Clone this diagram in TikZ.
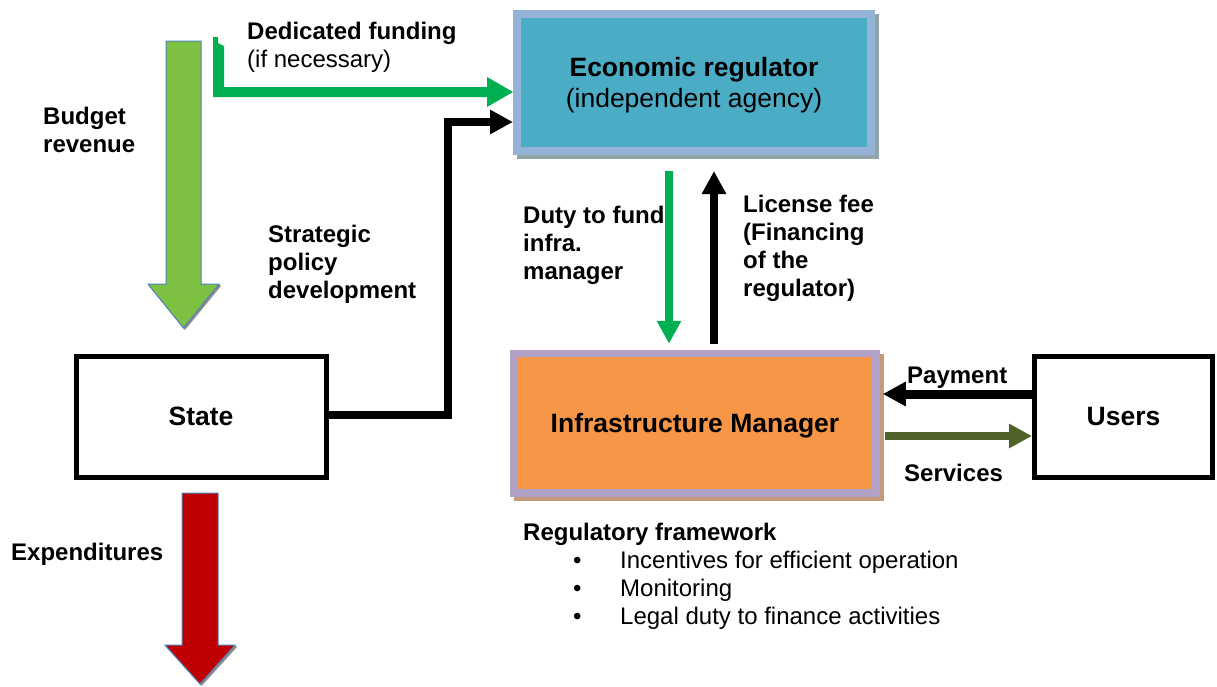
\documentclass[tikz,border=0pt]{standalone}
\usepackage{fontspec}
\setmainfont{Liberation Sans}
\usetikzlibrary{arrows.meta,calc}
\definecolor{budgetgreen}{HTML}{7DC143}
\definecolor{fundgreen}{HTML}{00B050}
\definecolor{expred}{HTML}{C00000}
\definecolor{arrowedge}{HTML}{4F81BD}
\definecolor{regfill}{HTML}{4BACC6}
\definecolor{regedge}{HTML}{95B3D7}
\definecolor{regshadow}{HTML}{8FA5AA}
\definecolor{imfill}{HTML}{F79646}
\definecolor{imedge}{HTML}{B3A2C7}
\definecolor{imshadow}{HTML}{C49A78}
\definecolor{servolive}{HTML}{4F6228}
\newcommand\firststrut{\rule{0pt}{18pt}}
\begin{document}
\begin{tikzpicture}[x=1pt,y=-1pt,
  lbl/.style={font=\fontsize{24}{28}\selectfont\bfseries, inner sep=0pt, anchor=north west, align=left},
  boxfont/.style={font=\fontsize{26.5}{31}\selectfont\bfseries, align=center},
  plainbox/.style={draw=black, line width=5pt, fill=white, minimum width=250pt, minimum height=121pt, boxfont},
  regbox/.style={draw=regedge, fill=regfill, line width=8pt, minimum width=354pt, minimum height=137pt, boxfont, text depth=0pt},
  imbox/.style={draw=imedge, fill=imfill, line width=7.5pt, minimum width=362pt, minimum height=139.5pt, boxfont, text depth=-1.5pt},
  bigtip/.style={-{Triangle[length=23pt,width=23pt]}},
  flow/.style={bigtip, line join=miter},
  blockarrow/.style={draw=arrowedge, line width=1pt, line join=miter},
  headshadow/.style={fill=black!45}
]
\useasboundingbox (0,0) rectangle (1217,686);

% box shadows
\fill[regshadow] (517,14) rectangle (878.5,158.5);
\fill[imshadow] (514,354) rectangle (883.5,500.5);

% boxes
\node[regbox] (reg) at (694,82.5) {Economic regulator\\ \mdseries(independent agency)};
\node[imbox] (im) at (695,423.25) {Infrastructure Manager};
\node[plainbox] (state) at (201,416.5) {State};
\node[plainbox, minimum width=178pt] (users) at (1123.5,416.5) {Users};

% budget revenue block arrow
\fill[headshadow] (149,286) -- (185,330) -- (221,286) -- (219,284) -- (183.5,328) -- (148,284) -- cycle;
\filldraw[blockarrow, fill=budgetgreen] (166,41) -- (201,41) -- (201,284) -- (219,284) -- (183.5,328) -- (148,284) -- (166,284) -- cycle;

% expenditures block arrow
\fill[headshadow] (166,647) -- (201.5,686) -- (237,647) -- (235,645) -- (200,684) -- (165,645) -- cycle;
\filldraw[blockarrow, fill=expred] (182,493) -- (218,493) -- (218,645) -- (235,645) -- (200,684) -- (165,645) -- (182,645) -- cycle;

% dedicated funding bent arrow
\fill[fundgreen] (213,37) -- (218,37) -- (218,43) -- (224,46) -- (224,87) -- (487,87) -- (487,77) -- (513,92) -- (487,107) -- (487,97) -- (213,97) -- cycle;

% connectors
\coordinate (turn) at (448,122);
\draw[flow, line width=8pt] (state.east |- 0,415) -| (turn) -- (reg.west |- turn);

\coordinate (dutyx) at (669,0);
\coordinate (licx) at (714,0);
\draw[flow, fundgreen, line width=8pt, shorten <=16pt, shorten >=6pt] (reg.south -| dutyx) -- (im.north -| dutyx);
\draw[flow, black, line width=8pt, shorten <=6pt, shorten >=16pt] (im.north -| licx) -- (reg.south -| licx);

\coordinate (payy) at (0,394);
\coordinate (servy) at (0,436);
\draw[flow, black, line width=9pt, shorten >=3pt] (users.west |- payy) -- (im.east |- payy);
\draw[flow, servolive, line width=8pt, shorten <=5pt] (im.east |- servy) -- (users.west |- servy);

% labels
\node[lbl] (lded) at (247,21) {\firststrut Dedicated funding\\ \mdseries (if necessary)};
\node[lbl] (lbud) at (43,106) {\firststrut Budget\\ revenue};
\node[lbl] (lstr) at (268,224) {\firststrut Strategic\\ policy\\ development};
\node[lbl] (lduty) at (523,205) {\firststrut Duty to fund\\ infra.\\ manager};
\node[lbl] (llic) at (743,194) {\firststrut License fee\\ (Financing\\ of the\\ regulator)};
\node[lbl] (lpay) at (907,365) {\firststrut Payment};
\node[lbl] (lserv) at (904,463) {\firststrut Services};
\node[lbl] (lexp) at (11,542) {\firststrut Expenditures};
\node[lbl] (lreg) at (523,522) {\firststrut Regulatory framework\\
  \mdseries\hspace*{50pt}\makebox[47pt][l]{\textbullet}Incentives for efficient operation\\
  \mdseries\hspace*{50pt}\makebox[47pt][l]{\textbullet}Monitoring\\
  \mdseries\hspace*{50pt}\makebox[47pt][l]{\textbullet}Legal duty to finance activities};
\end{tikzpicture}
\end{document}
